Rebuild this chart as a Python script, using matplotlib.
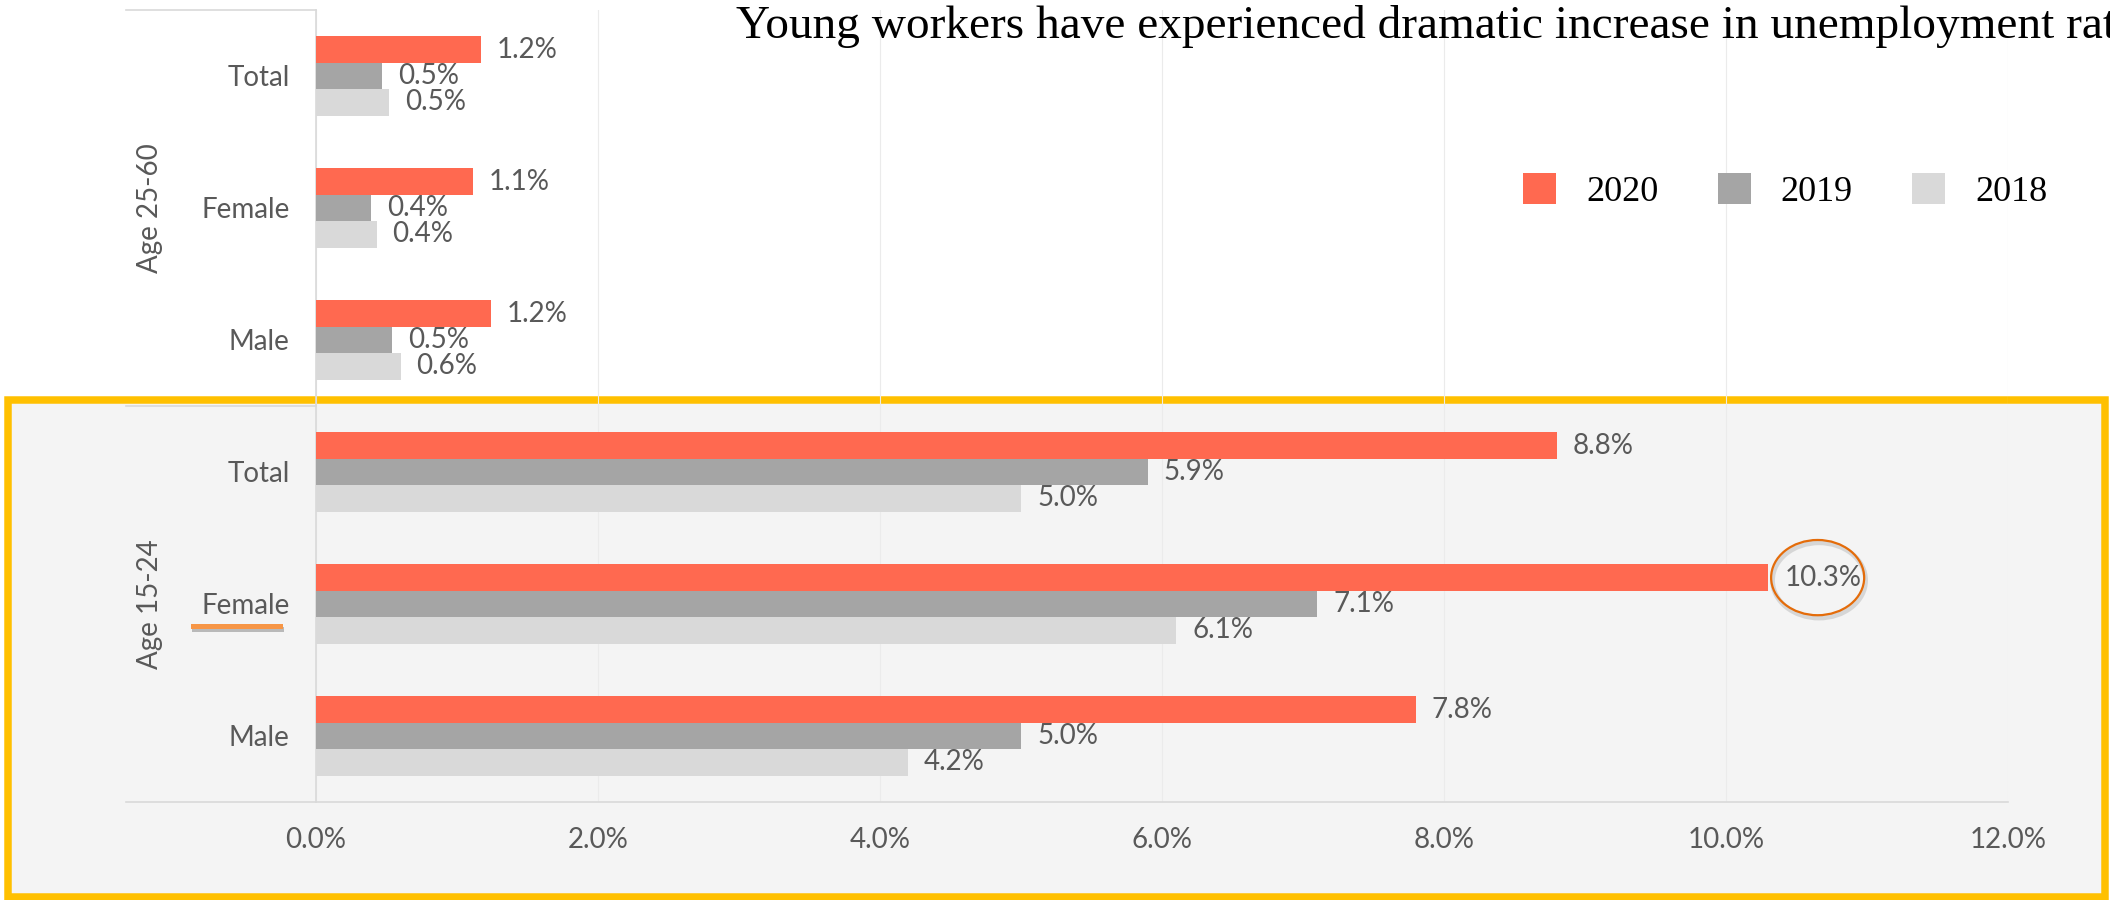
import matplotlib
matplotlib.use("Agg")
import matplotlib.pyplot as plt
import matplotlib.patheffects as pe
from matplotlib.patches import Rectangle, Ellipse
from matplotlib.lines import Line2D

# data (unemployment rate, %)
groups = ["Age 15-24", "Age 25-60"]
categories = ["Male", "Female", "Total", "Male", "Female", "Total"]
years = ["2020", "2019", "2018"]
rate_2020 = [7.8, 10.3, 8.8, 1.24, 1.11, 1.17]
rate_2019 = [5.0, 7.1, 5.9, 0.54, 0.39, 0.47]
rate_2018 = [4.2, 6.1, 5.0, 0.60, 0.43, 0.52]
colors = ["#FF6950", "#A5A5A5", "#D9D9D9"]

xticks = [0, 2, 4, 6, 8, 10, 12]
xtick_labels = ["0.0%", "2.0%", "4.0%", "6.0%", "8.0%", "10.0%", "12.0%"]

sans = ["Lato", "DejaVu Sans"]
serif = ["Liberation Serif", "DejaVu Serif"]
grey_txt = "#595959"
W, H = 2110, 900

fig = plt.figure(figsize=(21.1, 9), dpi=100)
fig.patch.set_facecolor("white")

# highlight box behind the young-workers group
box = Rectangle((8 / W, 1 - 896.5 / H), (2105 - 8) / W, (896.5 - 399.5) / H,
                transform=fig.transFigure, facecolor="#F4F4F4",
                edgecolor="#FFC000", linewidth=5.4, zorder=-5)
fig.patches.append(box)

ax = fig.add_axes([316 / W, 1 - 802 / H, (2008 - 316) / W, (802 - 10) / H])
ax.set_facecolor("none")

ypos = [i + 0.5 for i in range(len(categories))]
bh = 0.2
series = [rate_2020, rate_2019, rate_2018]
offsets = [bh, 0, -bh]
bars = []
for vals, off, col, yr in zip(series, offsets, colors, years):
    b = ax.barh([y + off for y in ypos], vals, height=bh, color=col,
                edgecolor="none", label=yr, zorder=3)
    ax.bar_label(b, fmt="{:.1f}%", padding=11.5, fontsize=20,
                 color=grey_txt, family=sans)
    bars.append(b)

ax.set_xlim(0, 12)
ax.set_ylim(0, 6)
ax.set_xticks(xticks, xtick_labels)
ax.set_yticks(ypos, categories)
ax.tick_params(axis="x", length=0, pad=18, labelsize=20, labelcolor=grey_txt)
ax.tick_params(axis="y", length=0, pad=19, labelsize=20, labelcolor=grey_txt)
for lab in ax.get_xticklabels() + ax.get_yticklabels():
    lab.set_family(sans)

ax.xaxis.grid(True, color="#EBEBEB", linewidth=0.8, zorder=0)
ax.set_axisbelow(True)
for s in ["top", "right"]:
    ax.spines[s].set_visible(False)
for s in ["left", "bottom"]:
    ax.spines[s].set_color("#D9D9D9")
    ax.spines[s].set_linewidth(1.2)

# multi-level category axis lines
xl = (126 - 316) / (2008 - 316)
for yy in [0, 0.5, 1]:
    ax.plot([xl, 0], [yy, yy], transform=ax.transAxes, color="#D9D9D9",
            linewidth=1.2, clip_on=False, zorder=2)
for g, yc in zip(groups, [0.25, 0.75]):
    ax.text((150 - 316) / (2008 - 316), yc, g, transform=ax.transAxes,
            rotation=90, ha="center", va="center", fontsize=20,
            color=grey_txt, family=sans)

# highlight the 10.3% label
i_f = 1
ell = Ellipse((rate_2020[i_f] + 0.35, ypos[i_f] + bh), 0.66, 0.57,
              facecolor="none", edgecolor="#E46C0A", linewidth=1.6, zorder=5,
              path_effects=[pe.SimpleLineShadow(offset=(1, -2), shadow_color="grey",
                                                alpha=0.25, linewidth=3.5),
                            pe.Normal()])
ax.add_patch(ell)

# underline under young Female
fig.add_artist(Line2D([193 / W, 280 / W], [1 - 626 / H, 1 - 626 / H],
                      color="#F79646", linewidth=3.6,
                      path_effects=[pe.SimpleLineShadow(offset=(0.5, -2),
                                                        shadow_color="grey", alpha=0.5),
                                    pe.Normal()]))

fig.text(736 / W, 1 - 38 / H,
         "Young workers have experienced dramatic increase in unemployment rate",
         fontsize=34, family=serif, color="black", va="baseline", ha="left")

leg = fig.legend(handles=bars, labels=years, loc="upper left",
                 bbox_to_anchor=(1523 / W, 1 - 173 / H), ncol=3, frameon=False,
                 prop={"family": serif, "size": 26}, handlelength=0.92,
                 handleheight=0.94, handletextpad=0.83, columnspacing=1.64,
                 borderpad=0, borderaxespad=0)

fig.savefig("out.png", dpi=100)
